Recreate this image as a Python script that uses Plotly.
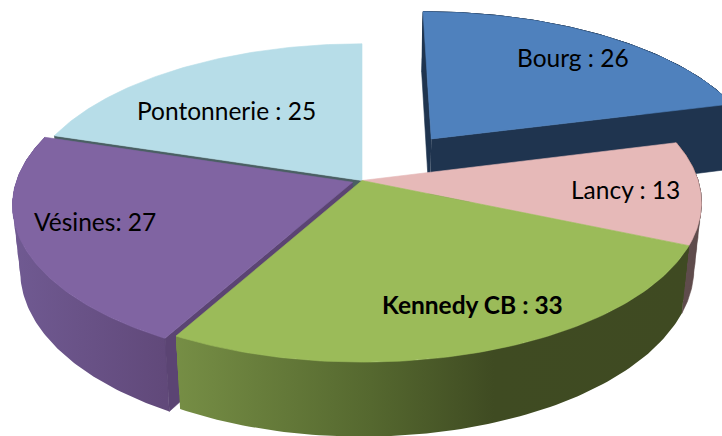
import numpy as np
import plotly.graph_objects as go

# Data
categories = ["Bourg", "Lancy", "Kennedy CB", "Vésines", "Pontonnerie"]
values = [26, 13, 33, 27, 25]
label_texts = ["Bourg : 26", "Lancy : 13", "<b>Kennedy CB : 33</b>", "Vésines: 27", "Pontonnerie : 25"]

# Styles
explode = [0.35, 0, 0, 0.03, 0]
slice_depth = [71, 64, 64, 64, 64]
top_colors = ["#4f81bd", "#e6b9b8", "#9bbb59", "#8064a2", "#b7dde8"]
cut_colors = ["#1f344f", "#5f4c4c", "#3f4a22", "#5b4473", "#4a5f63"]
arc_gradients = [
    None,
    None,
    [[0, "#768e45"], [0.38, "#55682f"], [0.62, "#3f4b22"], [1, "#3f4a22"]],
    [[0, "#705a92"], [1, "#61497a"]],
    None,
]
label_pos = [(573, 57), (625, 189), (472, 304), (95, 221), (226, 110)]

# Projection settings (pixels)
W, H = 722, 436
CX, CY = 362, 180.5
SX, SY = 336, 156
PERSP = 0.141
SHRINK = 0.978
LEVELS = [1.0, 0.8, 0.6, 0.4, 0.2]

total = sum(values)
edges = np.concatenate([[0], np.cumsum(values)]) / total * 2 * np.pi


def project(theta, r, pull, mid, level=0.0, depth=0.0):
    X = r * np.sin(theta) + pull * np.sin(mid)
    Y = r * np.cos(theta) + pull * np.cos(mid)
    den = 1 + PERSP * Y
    x = SX * X / den
    y = -SY * Y / den
    x = x * (1 - (1 - SHRINK) * level)
    y = y + level * depth / den
    return CX + x, CY + y


fig = go.Figure()


def poly(xs, ys, color=None, gradient=None, span=None):
    if gradient is None:
        kw = dict(fillcolor=color, line=dict(width=0.6, color=color))
    else:
        kw = dict(line=dict(width=0),
                  fillgradient=dict(type="horizontal", colorscale=gradient,
                                    start=float(span[0]), stop=float(span[1])))
    fig.add_trace(go.Scatter(x=list(xs), y=list(ys), mode="lines", fill="toself",
                             hoverinfo="skip", showlegend=False, **kw))


def top(i):
    a0, a1 = edges[i], edges[i + 1]
    mid = (a0 + a1) / 2
    t = np.linspace(a0, a1, 90)
    x, y = project(t, 1.0, explode[i], mid)
    ax, ay = project(mid, 0.0, explode[i], mid)
    poly(np.r_[ax, x, ax], np.r_[ay, y, ay], top_colors[i])


def arc(i):
    a0, a1 = edges[i], edges[i + 1]
    mid = (a0 + a1) / 2
    t = np.linspace(a0, a1, 90)
    x, y = project(t, 1.0, explode[i], mid)
    span = (x.min(), x.max())
    # Several nested strips so the silhouette follows the tangent of the rim
    for lv in LEVELS:
        bx, by = project(t, 1.0, explode[i], mid, lv, slice_depth[i])
        xs, ys = np.r_[x, bx[::-1]], np.r_[y, by[::-1]]
        if arc_gradients[i]:
            poly(xs, ys, gradient=arc_gradients[i], span=span)
        else:
            poly(xs, ys, cut_colors[i])


def cut(i, angle):
    a0, a1 = edges[i], edges[i + 1]
    mid = (a0 + a1) / 2
    r = np.array([0.0, 1.0])
    x, y = project(angle, r, explode[i], mid)
    bx, by = project(angle, r, explode[i], mid, 1.0, slice_depth[i])
    poly(np.r_[x, bx[::-1]], np.r_[y, by[::-1]], cut_colors[i])


# Painter's order, back to front
cut(4, edges[4])
top(4)
arc(0)
cut(0, edges[0])
cut(0, edges[1])
top(0)
arc(1)
top(1)
arc(3)
cut(3, edges[3])
top(3)
arc(2)
top(2)

for text, (lx, ly) in zip(label_texts, label_pos):
    fig.add_annotation(x=lx, y=ly, text=text, showarrow=False, xanchor="center", yanchor="middle",
                       font=dict(family="Lato", size=24.5, color="#000000"))

fig.update_layout(
    width=W, height=H, margin=dict(l=0, r=0, t=0, b=0),
    paper_bgcolor="white", plot_bgcolor="white", showlegend=False,
    xaxis=dict(range=[0, W], visible=False, fixedrange=True),
    yaxis=dict(range=[H, 0], visible=False, fixedrange=True),
)
fig.write_html("out.html", config=dict(displayModeBar=False),
               post_script="document.body.style.margin='0';document.documentElement.style.overflow='hidden';")
